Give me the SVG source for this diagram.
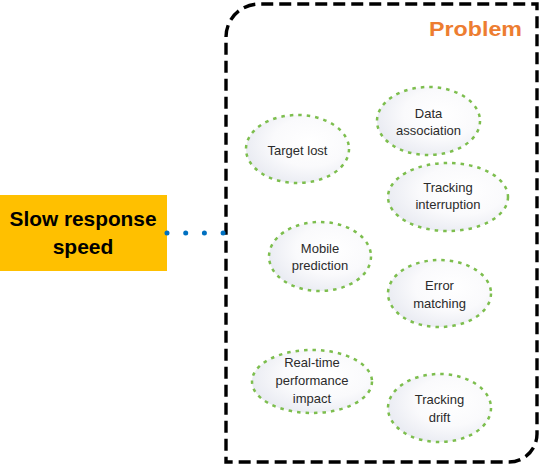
<svg xmlns="http://www.w3.org/2000/svg" width="542" height="466" viewBox="0 0 542 466">
<defs>
<radialGradient id="g" cx="0.62" cy="0.4" r="0.65">
<stop offset="0" stop-color="#FFFFFF"/>
<stop offset="0.55" stop-color="#FAFAFC"/>
<stop offset="1" stop-color="#E9EBF2"/>
</radialGradient>
<style>
.el{fill:url(#g);stroke:#7DBE4E;stroke-width:2.5;stroke-dasharray:3.5 5}
.t{font-family:"Liberation Sans",Arial,sans-serif;font-size:13px;fill:#2B2B2B;text-anchor:middle}
</style>
</defs>
<rect width="542" height="466" fill="#FFFFFF"/>
<path d="M226,37 A33,33 0 0 1 259,4 L537,4 L537,434 A28,28 0 0 1 509,462 L226,462 Z" fill="none" stroke="#000000" stroke-width="3.4" stroke-dasharray="12 6"/>
<text x="522" y="36" text-anchor="end" font-family="Liberation Sans,Arial,sans-serif" font-weight="bold" font-size="20.5" fill="#ED7D31" textLength="93" lengthAdjust="spacingAndGlyphs">Problem</text>
<g id="slow">
<rect x="0" y="195" width="167" height="76" fill="#FFC000"/>
<text x="83" y="226" text-anchor="middle" font-family="Liberation Sans,Arial,sans-serif" font-weight="bold" font-size="21" fill="#000000" textLength="147" lengthAdjust="spacingAndGlyphs">Slow response</text>
<text x="83" y="254" text-anchor="middle" font-family="Liberation Sans,Arial,sans-serif" font-weight="bold" font-size="21" fill="#000000">speed</text>
</g>
<g id="connectors">
<line x1="167" y1="233" x2="224" y2="233" stroke="#0070C0" stroke-width="5" stroke-linecap="round" stroke-dasharray="0 18.7"/>
</g>
<g id="target-lost">
<ellipse class="el" cx="297.5" cy="149" rx="51.5" ry="34"/>
<text class="t" x="297.5" y="155">Target lost</text>
</g>
<g id="data-association">
<ellipse class="el" cx="428.5" cy="121" rx="51.5" ry="34"/>
<text class="t" x="428.5" y="117.5">Data</text>
<text class="t" x="428.5" y="135">association</text>
</g>
<g id="tracking-interruption">
<ellipse class="el" cx="448" cy="197" rx="60" ry="34"/>
<text class="t" x="448" y="191.5">Tracking</text>
<text class="t" x="448" y="209">interruption</text>
</g>
<g id="mobile-prediction">
<ellipse class="el" cx="320" cy="256.5" rx="51" ry="34.5"/>
<text class="t" x="320" y="252.5">Mobile</text>
<text class="t" x="320" y="270">prediction</text>
</g>
<g id="error-matching">
<ellipse class="el" cx="439.5" cy="293.5" rx="51.5" ry="33.5"/>
<text class="t" x="439.5" y="289.5">Error</text>
<text class="t" x="439.5" y="307.5">matching</text>
</g>
<g id="realtime-impact">
<ellipse class="el" cx="312" cy="381.5" rx="60" ry="31.5"/>
<text class="t" x="312" y="366.5">Real-time</text>
<text class="t" x="312" y="384.5">performance</text>
<text class="t" x="312" y="402.5">impact</text>
</g>
<g id="tracking-drift">
<ellipse class="el" cx="439.5" cy="408" rx="51.5" ry="34"/>
<text class="t" x="439.5" y="403.5">Tracking</text>
<text class="t" x="439.5" y="421.5">drift</text>
</g>
</svg>
